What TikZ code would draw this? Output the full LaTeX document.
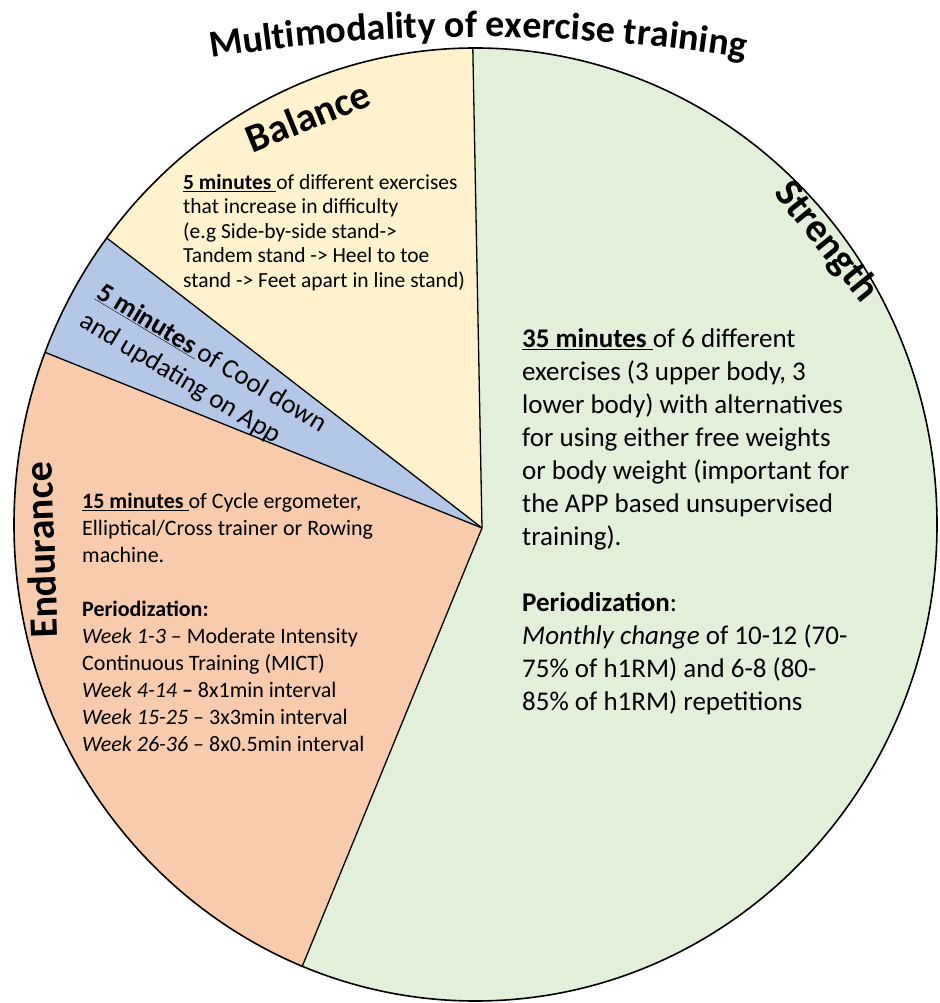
\documentclass[tikz,border=0pt]{standalone}
\usepackage{fontspec}
\setmainfont{Carlito}
\usetikzlibrary{decorations.text}

\definecolor{strengthgreen}{RGB}{226,239,217}
\definecolor{balanceyellow}{RGB}{255,242,204}
\definecolor{cooldownblue}{RGB}{180,199,231}
\definecolor{enduranceorange}{RGB}{248,203,173}

\tikzset{
	spoke/.style={line width=1.3pt},
	rim/.style={line width=1.6pt},
	slicelabel/.style={font=\fontsize{40}{48}\selectfont\bfseries,inner sep=0pt},
	bigtext/.style={font=\fontsize{27}{33}\selectfont,align=left,inner sep=0pt,anchor=north west},
	midtext/.style={font=\fontsize{22}{27}\selectfont,align=left,inner sep=0pt,anchor=north west},
	smalltext/.style={font=\fontsize{21.5}{24.5}\selectfont,align=left,inner sep=0pt,anchor=north west}
}

\begin{document}
\begin{tikzpicture}[x=1pt,y=1pt]
	\useasboundingbox (0,0) rectangle (939,1003);
	
	\coordinate (hub) at (482,475);
	\coordinate (mid) at (475.5,478.5);
	
	% pie
	\fill[strengthgreen] (mid) ellipse (461.5 and 476.5);
	\begin{scope}
		\clip (mid) ellipse (461.5 and 476.5);
		\foreach \a/\b/\c in {91.1/142.3/balanceyellow,142.3/158.1/cooldownblue,158.1/247.7/enduranceorange}
			\fill[\c] (hub) -- ++(\a:900) arc[start angle=\a,end angle=\b,radius=900] -- cycle;
		\foreach \a in {91.1,142.3,158.1,247.7}
			\draw[spoke] (hub) -- ++(\a:900);
	\end{scope}
	\draw[rim] (mid) ellipse (461.5 and 476.5);
	
	% title on an arc
	\path[decorate,decoration={text along path,text align=center,
		text={|\fontsize{38}{40}\selectfont\bfseries|Multimodality of exercise training}}]
		(478,-734) ++(100:1700) arc[start angle=100,end angle=80,radius=1700];
	
	% slice names
	\node[slicelabel,rotate=22] (balance) at (308,887) {Balance};
	\node[slicelabel,rotate=-51] (strength) at (826,761) {Strength};
	\node[slicelabel,rotate=92] (endurance) at (41,453) {Endurance};
	
	% slice texts
	\node[smalltext] (balancetext) at (183,829) {\underline{\textbf{5 minutes }}of different exercises\\
		that increase in difficulty\\
		(e.g Side-by-side stand->\\
		Tandem stand -> Heel to toe\\
		stand -> Feet apart in line stand)};
	
	\node[bigtext,rotate=-31] (cooltext) at (105,722) {\underline{\textbf{5 minutes }}of Cool down\\
		and updating on App};
	
	\node[midtext] (endurancetext) at (82,510) {\underline{\textbf{15 minutes }}of Cycle ergometer,\\
		Elliptical/Cross trainer or Rowing\\
		machine.\\[27pt]
		\textbf{Periodization:}\\
		\textit{Week 1-3} -- Moderate Intensity\\
		Continuous Training (MICT)\\
		\textit{Week 4-14} \textbf{--} 8x1min interval\\
		\textit{Week 15-25} -- 3x3min interval\\
		\textit{Week 26-36} -- 8x0.5min interval};
	
	\node[bigtext] (strengthtext) at (522,675) {\underline{\textbf{35 minutes }}of 6 different\\
		exercises (3 upper body, 3\\
		lower body) with alternatives\\
		for using either free weights\\
		or body weight (important for\\
		the APP based unsupervised\\
		training).\\[33pt]
		\textbf{Periodization}:\\
		\textit{Monthly change} of 10-12 (70-\\
		75\% of h1RM) and 6-8 (80-\\
		85\% of h1RM) repetitions};
\end{tikzpicture}
\end{document}
